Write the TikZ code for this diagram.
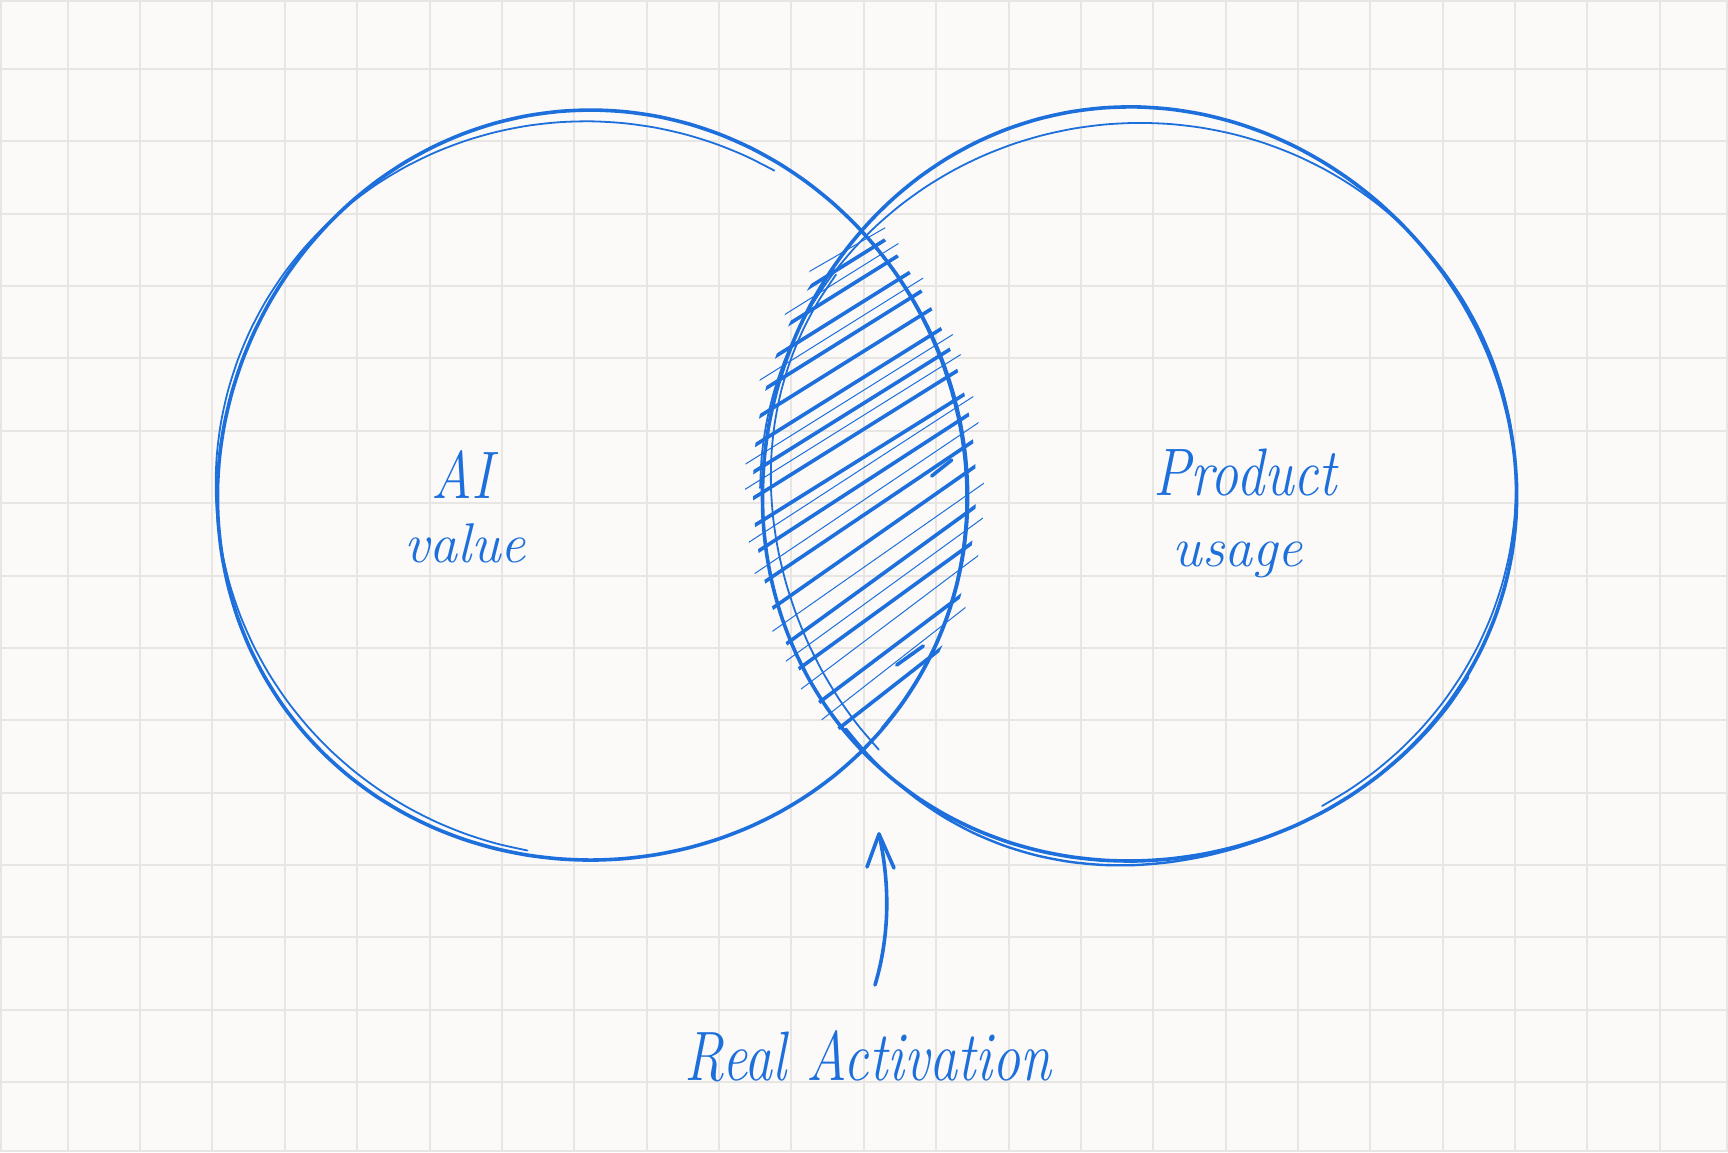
\documentclass[tikz,border=0pt]{standalone}
\usepackage{xcolor}
\definecolor{ink}{HTML}{1D6FDC}
\definecolor{paper}{HTML}{FBFAF8}
\definecolor{gridc}{HTML}{E8E6E3}
\begin{document}
\begin{tikzpicture}[x=0.5pt,y=-0.5pt,
  pen/.style={draw=ink, line width=1.8pt, line cap=round, line join=round},
  thinpen/.style={draw=ink, line width=0.9pt, line cap=round, line join=round},
  hatchthick/.style={draw=ink, line width=1.8pt, line cap=round},
  hatchthin/.style={draw=ink, line width=0.5pt, line cap=round},
  hand/.style={text=ink, font=\fontsize{28}{34}\selectfont\itshape, inner sep=0pt, anchor=base}]
\useasboundingbox (0,0) rectangle (1728,1152);
\fill[paper] (0,0) rectangle (1728,1152);
\foreach \i in {0,...,22} \draw[gridc, line width=1pt] ({67.7+\i*72.37},0) -- ({67.7+\i*72.37},1152);
\foreach \j in {0,...,14} \draw[gridc, line width=1pt] (0,{69+\j*72.37}) -- (1728,{69+\j*72.37});
\draw[gridc, line width=1pt] (1,1) rectangle (1727,1151);

% left circle
\draw[pen] plot[smooth cycle, domain=0:355, samples=72] ({592+(375+3*sin(3*\x+10))*cos(\x)},{488+(375+3*sin(3*\x+10))*sin(\x)});
\draw[thinpen] plot[smooth, domain=100:300, samples=41] ({591+(371+5*sin(2*\x+60))*cos(\x)},{489+(372+5*sin(2*\x+60))*sin(\x)});
\draw[thinpen] plot[smooth, domain=-40:40, samples=17] ({594+(372+4*sin(3*\x))*cos(\x)},{486+(373+4*sin(3*\x))*sin(\x)});
% right circle
\draw[pen] plot[smooth cycle, domain=0:355, samples=72] ({1137+(377+4*sin(3*\x+40))*cos(\x)},{487+(377+4*sin(3*\x+40))*sin(\x)});
\draw[thinpen] plot[smooth, domain=180:420, samples=49] ({1138+(372+6*sin(2*\x+100))*cos(\x)},{488+(371+6*sin(2*\x+100))*sin(\x)});
\draw[pen, line width=1.2pt] plot[smooth, domain=30:140, samples=23] ({1136+(380+4*sin(4*\x))*cos(\x)},{486+(379+4*sin(4*\x))*sin(\x)});
\draw[thinpen] plot[smooth, domain=135:215, samples=17] ({1139+(368+3*sin(4*\x))*cos(\x)},{488+(370+3*sin(4*\x))*sin(\x)});

% hatching
\begin{scope}
\clip (592,488) circle [radius=384];
\clip (1137,487) circle [radius=384];
\foreach \yy/\aa in {318/32,342/32,366/32,392/32,416/32,442/32,468/32,494/32,522/32,550/33,585/34,617/35,663/36,697/36,747/37,790/38}
  \draw[hatchthick] (700,{\yy+tan(\aa)*60}) -- ++({cos(\aa)*420},{-sin(\aa)*420});
\end{scope}
\begin{scope}
\clip (592,488) circle [radius=392];
\clip (1137,487) circle [radius=392];
\foreach \yy/\aa in {300/30,330/32,380/32,455/32,480/32,535/33,570/34,640/35,680/36,720/37,768/38}
  \draw[hatchthin] (700,{\yy+tan(\aa)*60}) -- ++({cos(\aa)*420},{-sin(\aa)*420});
\end{scope}
\draw[hatchthick] (896.7,665) -- (923.3,646);
\draw[hatchthick] (931.7,476) -- (951.7,460);

% labels
\node[hand] (ai1) at (462,498) {\scalebox{1}[1.2]{AI}};
\node[hand] (ai2) at (465,562) {value};
\node[hand] (pu1) at (1245,495) {\scalebox{1}[1.2]{Product}};
\node[hand] (pu2) at (1238,566) {usage};
\node[hand] (ra) at (868,1080) {\scalebox{1}[1.25]{Real Activation}};

% arrow
\coordinate (atail) at (875,985);
\coordinate (atip) at (879,834);
\coordinate (barbl) at (867,867);
\coordinate (barbr) at (894,868);
\draw[pen] (atail) .. controls (893,925) and (887,870) .. (atip);
\draw[pen] (barbl) -- (atip) -- (barbr);
\end{tikzpicture}
\end{document}
